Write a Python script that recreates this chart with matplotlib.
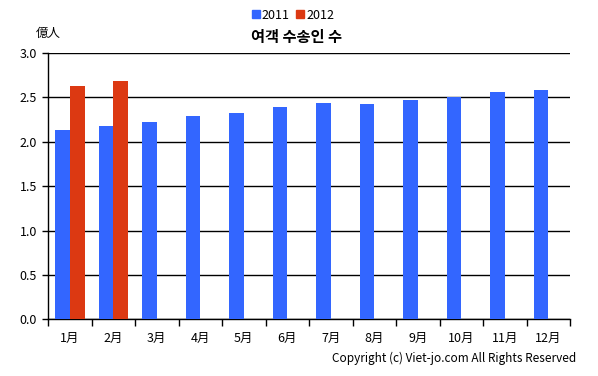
import matplotlib
matplotlib.use('Agg')
import matplotlib.pyplot as plt
from matplotlib.lines import Line2D
import numpy as np

plt.rcParams['font.family'] = ['Noto Sans CJK KR', 'DejaVu Sans']

months = ['1月', '2月', '3月', '4月', '5月', '6月', '7月', '8月', '9月', '10月', '11月', '12月']
v2011 = [2.13, 2.18, 2.22, 2.29, 2.33, 2.39, 2.44, 2.43, 2.47, 2.51, 2.56, 2.585]
v2012 = [2.63, 2.69]
blue = '#3366FF'
red = '#DC3912'

fig = plt.figure(figsize=(5.98, 3.76), dpi=100)
ax = fig.add_axes([0.0803, 0.1508, 0.8729, 0.708])

x = np.arange(len(months)) + 0.5
ax.bar(x - 0.165, v2011, width=0.33, color=blue, zorder=3)
ax.bar(x[:len(v2012)] + 0.17, v2012, width=0.34, color=red, zorder=3)

ax.set_xlim(0, 12)
ax.set_ylim(0, 3.0)
ax.set_yticks(np.arange(0, 3.01, 0.5))
ax.set_yticklabels(['%.1f' % t for t in np.arange(0, 3.01, 0.5)], fontsize=9)
ax.yaxis.grid(True, color='black', linewidth=1.0, zorder=1)
ax.set_axisbelow(True)

ax.set_xticks(np.arange(0, 13))
ax.set_xticklabels([])
ax.set_xticks(x, minor=True)
ax.set_xticklabels(months, minor=True, fontsize=9)
ax.tick_params(axis='x', which='major', direction='out', length=5, width=1)
ax.tick_params(axis='x', which='minor', length=0, pad=9)
ax.tick_params(axis='y', direction='out', length=4, width=1, pad=4)

for s in ['top', 'right']:
    ax.spines[s].set_visible(False)
for s in ['left', 'bottom']:
    ax.spines[s].set_linewidth(1.0)

handles = [Line2D([], [], marker='s', linestyle='none', color=blue, markersize=6),
           Line2D([], [], marker='s', linestyle='none', color=red, markersize=6)]
fig.legend(handles, ['2011', '2012'], loc='center', bbox_to_anchor=(0.49, 0.96),
           ncol=2, frameon=False, fontsize=9, handlelength=0.6, handletextpad=0.2,
           columnspacing=0.5)

fig.text(0.495, 0.902, '여객 수송인 수', ha='center', va='center', fontsize=11, fontweight='bold')
fig.text(0.06, 0.912, '億人', ha='left', va='center', fontsize=9)
fig.text(0.963, 0.048, 'Copyright (c) Viet-jo.com All Rights Reserved', ha='right', va='center', fontsize=8.5)

fig.savefig('out.png', dpi=100)
